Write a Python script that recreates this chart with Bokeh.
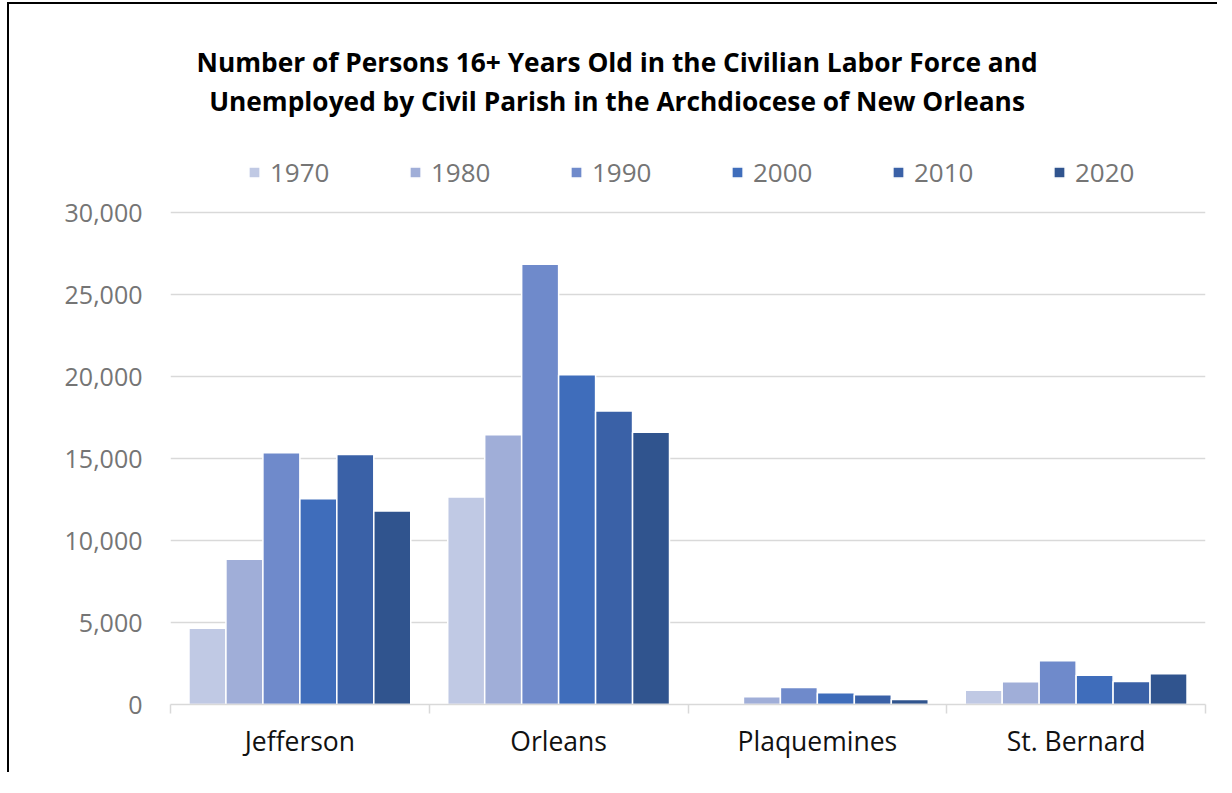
from bokeh.plotting import figure
from bokeh.models import (Range1d, FixedTicker, NumeralTickFormatter, Label,
                          Legend, LegendItem, ColumnDataSource)
from bokeh.embed import file_html
from bokeh.resources import INLINE

# ---- data ----
parishes = ["Jefferson", "Orleans", "Plaquemines", "St. Bernard"]
years = ["1970", "1980", "1990", "2000", "2010", "2020"]
values_1970 = [4650, 12650, 0, 870]
values_1980 = [8850, 16450, 480, 1380]
values_1990 = [15350, 26850, 1030, 2670]
values_2000 = [12550, 20100, 710, 1780]
values_2010 = [15250, 17900, 590, 1400]
values_2020 = [11800, 16600, 300, 1880]
series = [values_1970, values_1980, values_1990, values_2000, values_2010, values_2020]
colors = ["#C0C9E4", "#A0AED8", "#6F8ACB", "#3F6DBB", "#3A61A7", "#30548E"]
y_ticks = [0, 5000, 10000, 15000, 20000, 25000, 30000]
title_lines = ["Number of Persons 16+ Years Old in the Civilian Labor Force and",
               "Unemployed by Civil Parish in the Archdiocese of New Orleans"]

FONT = "Open Sans"
GRID = "#D9D9D9"
TXT = "#757575"

# frame geometry (px)
frame_h = 700
px_per_unit = 492 / 30000
y_top = frame_h / px_per_unit

p = figure(width=1210, height=770, output_backend="svg", toolbar_location=None,
           x_range=Range1d(0, len(parishes)), y_range=Range1d(0, y_top),
           min_border_left=161, min_border_right=14, min_border_top=0,
           min_border_bottom=70)
p.outline_line_color = None
p.background_fill_color = "white"
p.border_fill_color = "white"
p.styles = {"border-left": "2px solid #000", "border-top": "2px solid #000",
            "position": "absolute", "left": "7px", "top": "2px"}

n = len(years)
bw = 1.0 / (n + 1)
renderers = []
for j, (yr, vals, col) in enumerate(zip(years, series, colors)):
    xs = [i + 0.5 + (j - (n - 1) / 2) * bw for i in range(len(parishes))]
    src = ColumnDataSource(dict(x=xs, top=vals))
    r = p.vbar(x="x", top="top", width=bw, source=src, fill_color=col,
               line_color="white", line_width=1.5)
    renderers.append((yr, r))

# axes
p.yaxis.ticker = FixedTicker(ticks=y_ticks)
p.yaxis.formatter = NumeralTickFormatter(format="0,0")
p.yaxis.axis_line_color = None
p.yaxis.major_tick_line_color = None
p.yaxis.minor_tick_line_color = None
p.yaxis.major_label_text_font = FONT
p.yaxis.major_label_text_font_size = "25px"
p.yaxis.major_label_text_color = TXT
p.yaxis.major_label_standoff = 22

p.xaxis.ticker = FixedTicker(ticks=[i + 0.5 for i in range(len(parishes))],
                             minor_ticks=list(range(len(parishes) + 1)))
p.xaxis.major_label_overrides = {i + 0.5: name for i, name in enumerate(parishes)}
p.xaxis.axis_line_color = GRID
p.xaxis.axis_line_width = 1.5
p.xaxis.major_tick_line_color = None
p.xaxis.minor_tick_line_color = GRID
p.xaxis.minor_tick_line_width = 1.5
p.xaxis.minor_tick_in = 0
p.xaxis.minor_tick_out = 9
p.xaxis.major_label_text_font = FONT
p.xaxis.major_label_text_font_size = "26.5px"
p.xaxis.major_label_text_color = "#111111"
p.xaxis.major_label_standoff = 9

p.xgrid.grid_line_color = None
p.ygrid.ticker = FixedTicker(ticks=y_ticks)
p.ygrid.grid_line_color = GRID
p.ygrid.grid_line_width = 1.5

# title
def y_of(screen_y):
    return (704 - screen_y) / px_per_unit

x_center = (617 - 170) / 259
for line, sy in zip(title_lines, [61, 100]):
    p.add_layout(Label(x=x_center, y=y_of(sy), text=line, text_align="center",
                       text_baseline="middle", text_font=FONT,
                       text_font_style="bold", text_font_size="26.3px",
                       text_color="#000000"))

legend = Legend(items=[LegendItem(label=yr, renderers=[r]) for yr, r in renderers],
                orientation="horizontal", location=(77, 514),
                glyph_width=14, glyph_height=14, label_standoff=9,
                label_width=100, spacing=38, padding=0, margin=0,
                border_line_color=None, background_fill_alpha=0,
                label_text_font=FONT, label_text_font_size="26px",
                label_text_color=TXT)
p.add_layout(legend, "center")

open("out.html", "w").write(file_html(p, INLINE))
